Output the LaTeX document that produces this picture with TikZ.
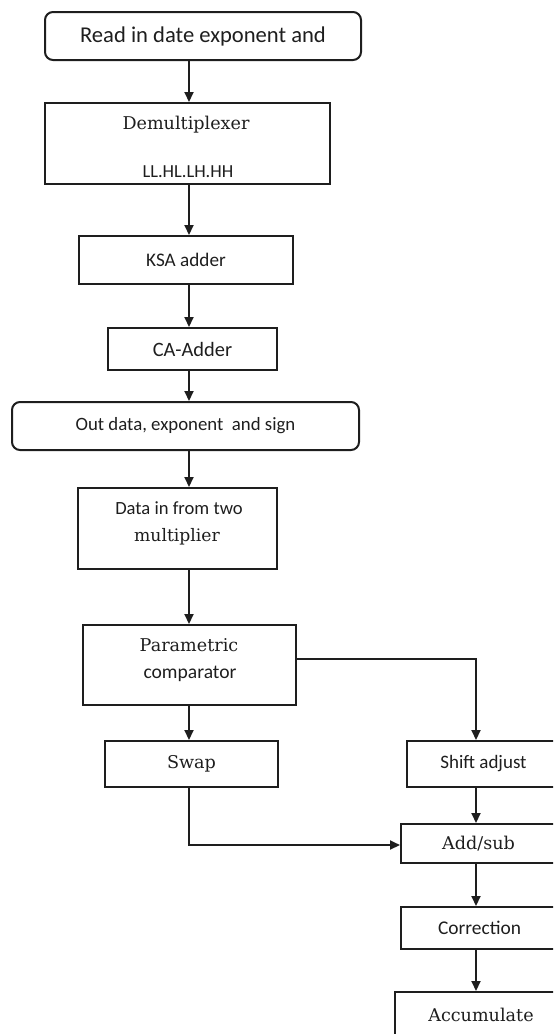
\documentclass[tikz,border=0pt]{standalone}
\usepackage{fontspec}
\setmainfont{DejaVu Serif}
\newfontfamily\calib{Carlito}
\usetikzlibrary{arrows.meta}
\definecolor{ink}{HTML}{1E1E1E}
\tikzset{
  box/.style={draw=ink, line width=1pt, inner sep=0pt, text=ink},
  rbox/.style={box, rounded corners=4pt},
  arr/.style={draw=ink, line width=1pt, -{Triangle[width=4.5pt,length=5pt]}},
  lab/.style={inner sep=0pt, text=ink},
}
\begin{document}
\begin{tikzpicture}[x=0.5pt,y=-0.5pt]
\useasboundingbox (0,0) rectangle (553,1034);
\clip (0,0) rectangle (553,1034);
% boxes
\node[rbox, minimum width=158pt, minimum height=24pt] (b1) at (203,36)
  {\calib\fontsize{11.3}{13}\selectfont Read in date exponent and};
\node[box, minimum width=142.5pt, minimum height=40.5pt] (b2) at (187.5,143.5) {};
\node[lab] (b2t) at (186,125) {\fontsize{8.8}{10}\selectfont Demultiplexer};
\node[lab] (b2u) at (188,172) {\calib\fontsize{9.2}{10}\selectfont LL.HL.LH.HH};
\node[box, minimum width=107pt, minimum height=24pt] (b3) at (186,260)
  {\calib\fontsize{9.6}{11}\selectfont KSA adder};
\node[box, minimum width=84.5pt, minimum height=21pt] (b4) at (192.5,349)
  {\calib\fontsize{10.2}{11}\selectfont CA-Adder};
\node[rbox, minimum width=173.5pt, minimum height=24pt] (b5) at (185.5,426)
  {\calib\fontsize{9.4}{11}\selectfont Out data, exponent\ \ and sign};
\node[box, minimum width=99.5pt, minimum height=40.5pt] (b6) at (177.5,528.5) {};
\node[lab] (b6t) at (179,508) {\calib\fontsize{9.3}{10}\selectfont Data in from two};
\node[lab] (b6u) at (177,537) {\fontsize{8.6}{10}\selectfont multiplier};
\node[box, minimum width=106.5pt, minimum height=40pt] (b7) at (189.5,665) {};
\node[lab] (b7t) at (189,645) {\fontsize{8.8}{10}\selectfont Parametric};
\node[lab] (b7u) at (190,674) {\calib\fontsize{9.8}{10}\selectfont comparator};
\node[box, minimum width=86.5pt, minimum height=23pt] (b8) at (191.5,764)
  {\fontsize{8.8}{10}\selectfont Swap};
\node[box, minimum width=76.5pt, minimum height=23pt] (b9) at (483.5,764)
  {\calib\fontsize{9.5}{10}\selectfont Shift adjust};
\node[box, minimum width=77.5pt, minimum height=19.5pt] (b10) at (478.5,843.5)
  {\fontsize{8.8}{10}\selectfont Add/sub};
\node[box, minimum width=78.5pt, minimum height=21pt] (b11) at (479.5,928)
  {\calib\fontsize{9.7}{10}\selectfont Correction};
\node[box, minimum width=86pt, minimum height=23pt] (b12) at (481,1015)
  {\fontsize{8.8}{10}\selectfont Accumulate};
% connector columns
\coordinate (cl) at (189,0);
\coordinate (cr) at (476,0);
\coordinate (r1) at (476,659);
\coordinate (s1) at (189,845);
\draw[arr] (b1.south -| cl) -- (b2.north -| cl);
\draw[arr] (b2.south -| cl) -- (b3.north -| cl);
\draw[arr] (b3.south -| cl) -- (b4.north -| cl);
\draw[arr] (b4.south -| cl) -- (b5.north -| cl);
\draw[arr] (b5.south -| cl) -- (b6.north -| cl);
\draw[arr] (b6.south -| cl) -- (b7.north -| cl);
\draw[arr] (b7.south -| cl) -- (b8.north -| cl);
\draw[arr] (b7.east |- r1) -| (b9.north -| r1);
\draw[arr] (b8.south -| s1) |- (b10.west |- s1);
\draw[arr] (b9.south -| cr) -- (b10.north -| cr);
\draw[arr] (b10.south -| cr) -- (b11.north -| cr);
\draw[arr] (b11.south -| cr) -- (b12.north -| cr);
\end{tikzpicture}
\end{document}
